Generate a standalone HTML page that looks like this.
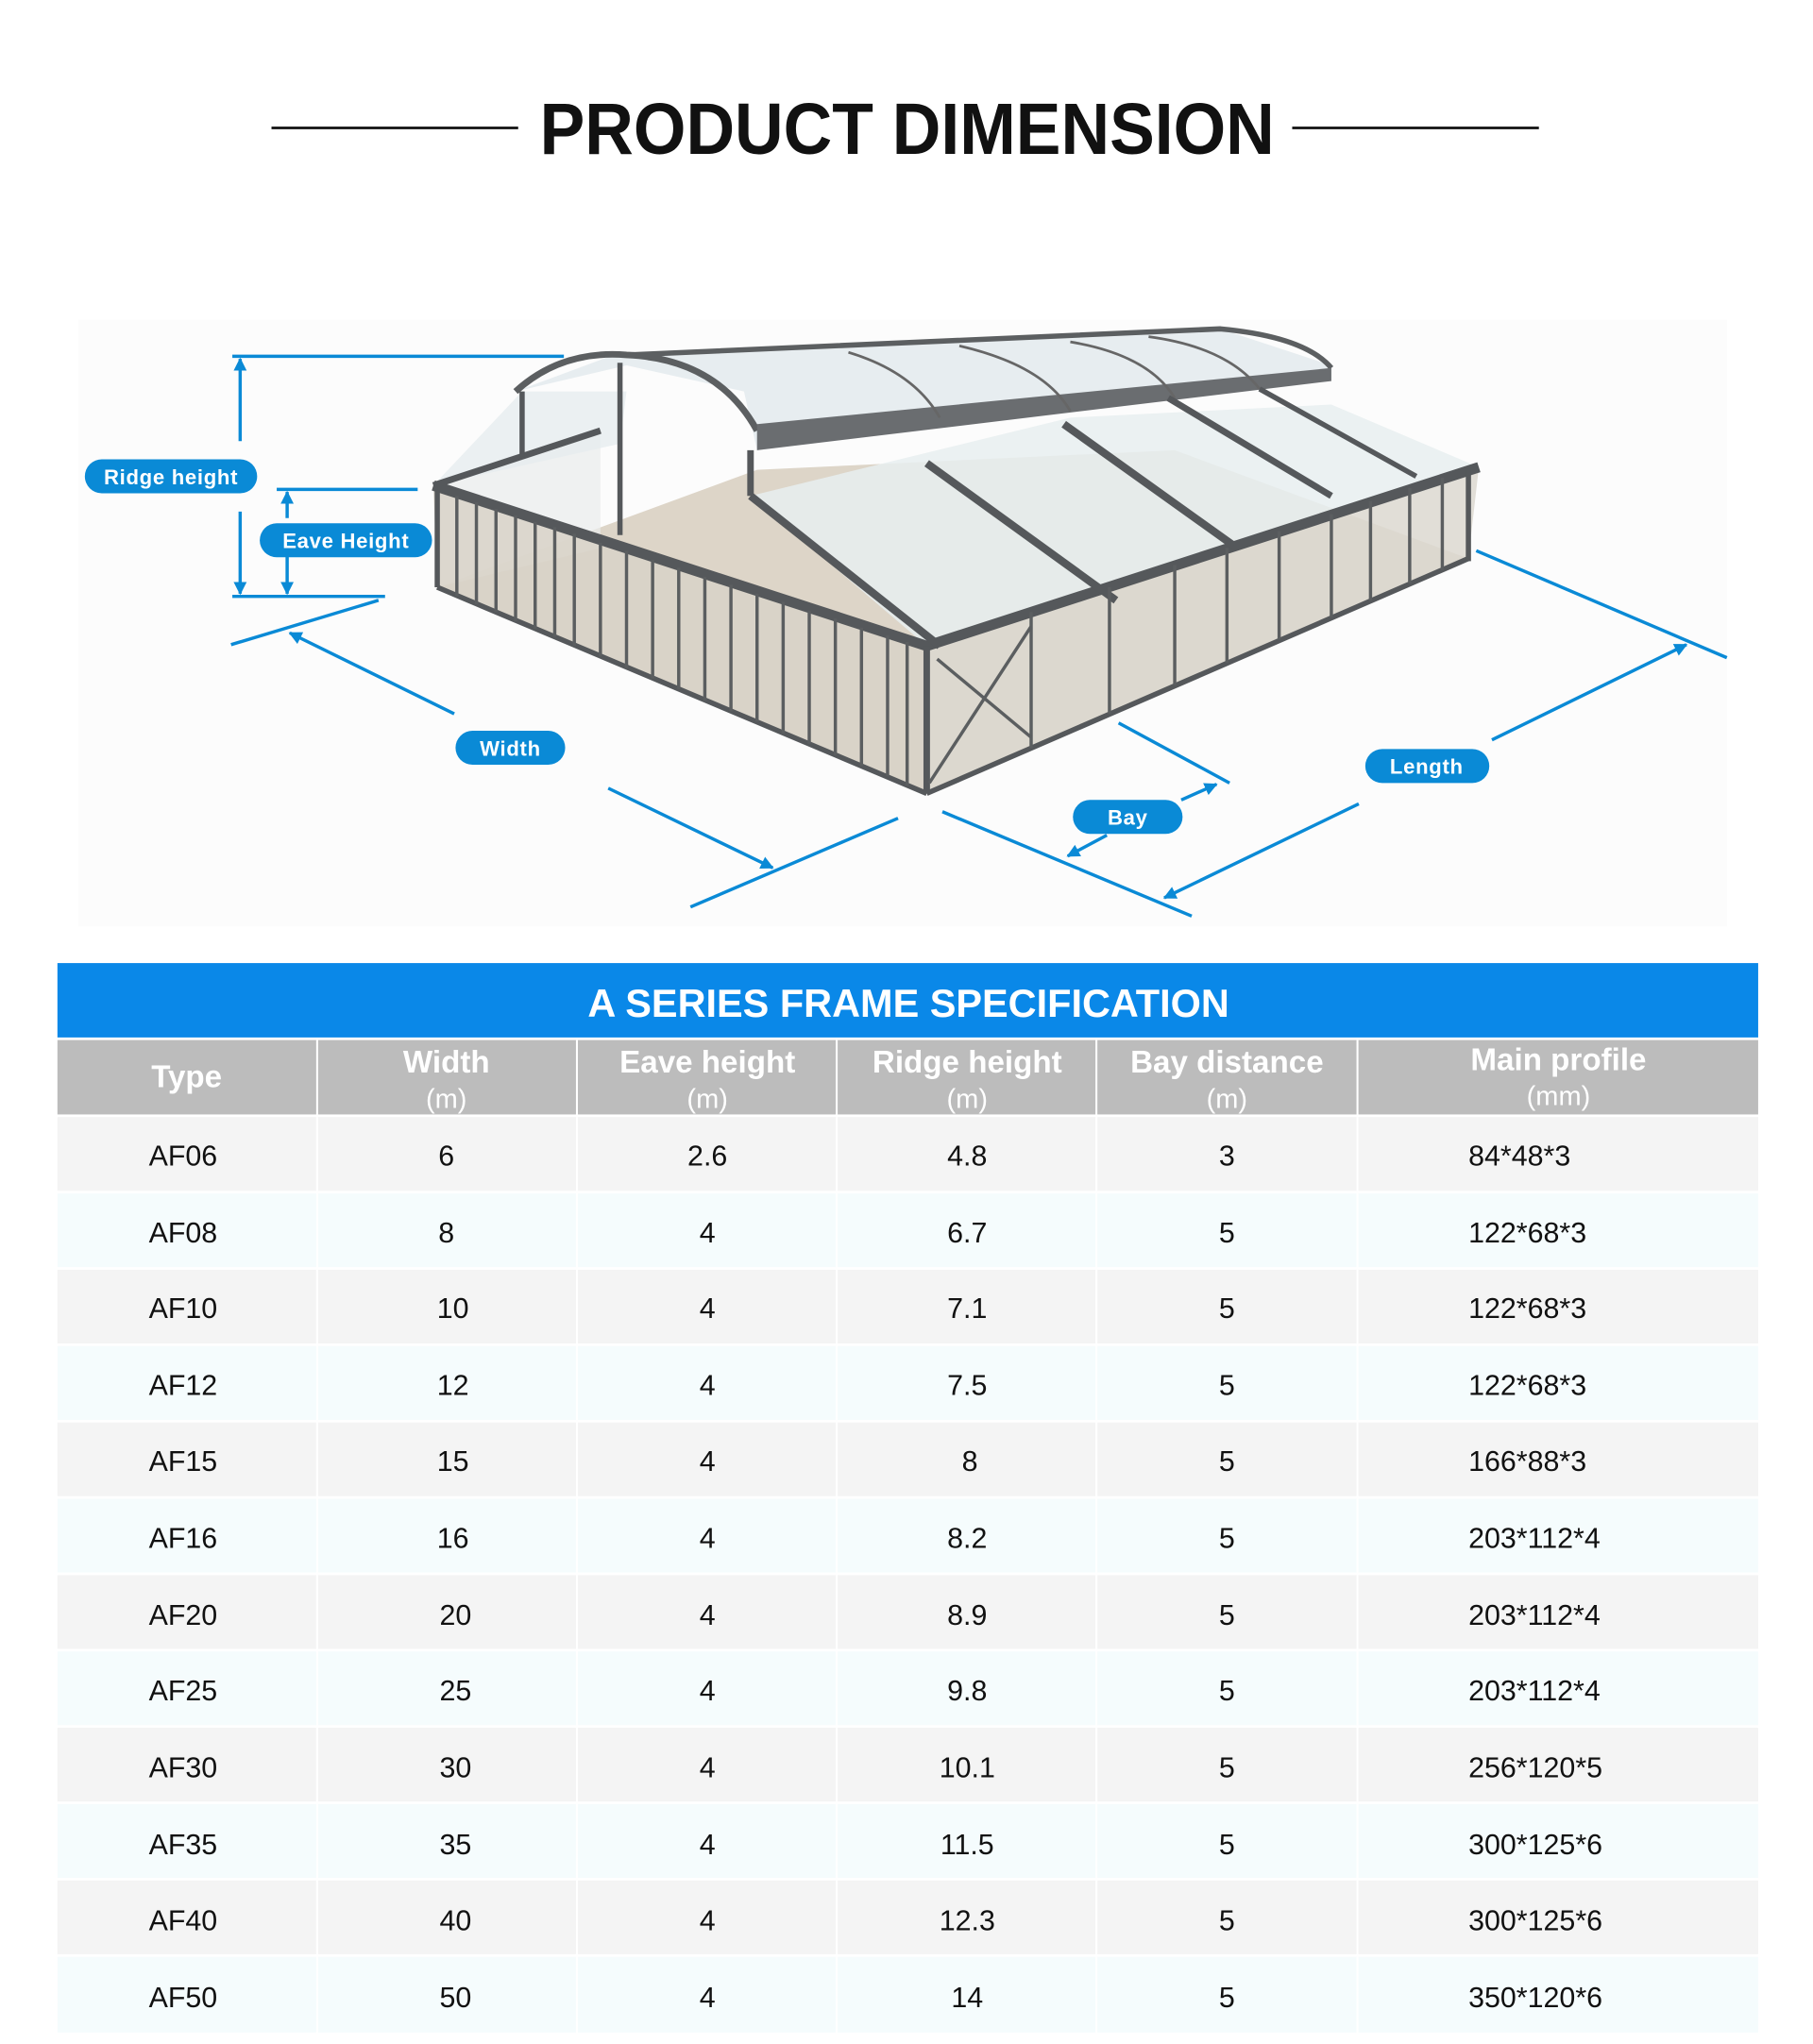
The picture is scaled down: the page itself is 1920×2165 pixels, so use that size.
<!DOCTYPE html>
<html><head><meta charset="utf-8"><style>
html,body{margin:0;padding:0;background:#fff;}
svg{display:block}
text{font-family:"Liberation Sans",sans-serif}
</style></head><body>
<svg width="1920" height="2165" viewBox="0 0 1389 1566.3" preserveAspectRatio="none" xmlns="http://www.w3.org/2000/svg">
<defs>
<marker id="ah" viewBox="0 0 10 10" refX="9" refY="5" markerWidth="4" markerHeight="4" orient="auto-start-reverse"><path d="M0,0 L10,5 L0,10 z" fill="#0a8ad6"/></marker>
</defs>
<rect width="1389" height="1567" fill="#fff"/>
<!-- Title -->
<line x1="208" y1="98" x2="397" y2="98" stroke="#111" stroke-width="2"/>
<line x1="990" y1="98" x2="1179" y2="98" stroke="#111" stroke-width="2"/>
<text x="695" y="118" text-anchor="middle" font-size="56" font-weight="bold" fill="#111" textLength="563" lengthAdjust="spacingAndGlyphs">PRODUCT DIMENSION</text>
<rect x="60" y="245" width="1263" height="465" fill="#fcfcfc"/>

<!-- Tent -->
<g>
<polygon points="335,450 710,608 1125,428 900,345 580,360" fill="#ddd5c8"/>
<!-- left back wall area -->
<polygon points="332,372 460,330 460,420 335,450" fill="#e9eced" opacity="0.7"/>
<!-- front-left wall -->
<polygon points="332,372 710,495 710,608 335,450" fill="#d8d2c8" opacity="0.85"/>
<!-- front-right wall -->
<polygon points="710,495 1133,358 1125,428 710,608" fill="#dcd8d0" opacity="0.85"/>
<!-- lower roof slopes -->
<polygon points="575,380 710,495 1133,358 1020,310 820,320" fill="#e8eef0" opacity="0.85"/>
<polygon points="332,372 475,340 480,300 400,300" fill="#e6ecef" opacity="0.8"/>
<!-- raised section -->
<polygon points="395,300 480,280 570,300 580,345 1020,290 1020,280 935,252 470,272" fill="#e4ebee" opacity="0.9"/>
<path d="M395,300 Q430,268 480,272 Q550,275 580,330" fill="none" stroke="#5c5f61" stroke-width="5"/>
<path d="M480,272 L935,252 Q1000,258 1020,282" fill="none" stroke="#5c5f61" stroke-width="4"/>
<polygon points="580,325 1020,282 1020,292 580,345" fill="#6a6d70"/>
<g stroke="#666" stroke-width="2" fill="none">
<path d="M650,270 Q700,285 720,320"/><path d="M735,265 Q800,280 820,315"/><path d="M820,262 Q880,272 900,305"/><path d="M880,258 Q940,266 965,298"/>
</g>
<!-- frame strokes -->
<g stroke="#55585b" fill="none">
<polyline points="332,372 710,495 1133,358" stroke-width="8"/>
<line x1="575" y1="380" x2="720" y2="495" stroke-width="6"/>
<line x1="710" y1="355" x2="855" y2="460" stroke-width="6"/>
<line x1="815" y1="325" x2="945" y2="418" stroke-width="6"/>
<line x1="895" y1="305" x2="1020" y2="380" stroke-width="5"/>
<line x1="965" y1="298" x2="1085" y2="365" stroke-width="4"/>
<line x1="332" y1="372" x2="460" y2="330" stroke-width="5"/>
<line x1="400" y1="300" x2="400" y2="350" stroke-width="4"/>
<line x1="475" y1="278" x2="475" y2="410" stroke-width="4"/>
<line x1="575" y1="345" x2="575" y2="380" stroke-width="5"/>
<line x1="710" y1="495" x2="710" y2="608" stroke-width="5"/>
<line x1="335" y1="450" x2="710" y2="608" stroke-width="4"/>
<line x1="710" y1="608" x2="1125" y2="428" stroke-width="4"/>
<line x1="1125" y1="360" x2="1125" y2="430" stroke-width="4"/>
<line x1="335" y1="375" x2="335" y2="450" stroke-width="4"/>
</g>
<g stroke="#5b5e60" stroke-width="2.5">
<line x1="350" y1="380" x2="350" y2="457"/><line x1="365" y1="385" x2="365" y2="463"/><line x1="380" y1="390" x2="380" y2="469"/><line x1="395" y1="395" x2="395" y2="476"/><line x1="410" y1="400" x2="410" y2="482"/><line x1="425" y1="404" x2="425" y2="488"/><line x1="440" y1="409" x2="440" y2="495"/><line x1="460" y1="416" x2="460" y2="503"/><line x1="480" y1="422" x2="480" y2="512"/><line x1="500" y1="429" x2="500" y2="520"/><line x1="520" y1="435" x2="520" y2="528"/><line x1="540" y1="442" x2="540" y2="537"/><line x1="560" y1="448" x2="560" y2="545"/><line x1="580" y1="455" x2="580" y2="553"/><line x1="600" y1="461" x2="600" y2="562"/><line x1="620" y1="468" x2="620" y2="570"/><line x1="640" y1="474" x2="640" y2="579"/><line x1="660" y1="481" x2="660" y2="587"/><line x1="680" y1="487" x2="680" y2="595"/><line x1="695" y1="492" x2="695" y2="602"/>
<line x1="790" y1="469" x2="790" y2="573"/><line x1="850" y1="450" x2="850" y2="547"/><line x1="900" y1="433" x2="900" y2="525"/><line x1="940" y1="420" x2="940" y2="508"/><line x1="980" y1="407" x2="980" y2="490"/><line x1="1020" y1="394" x2="1020" y2="473"/><line x1="1050" y1="384" x2="1050" y2="460"/><line x1="1080" y1="374" x2="1080" y2="447"/><line x1="1105" y1="366" x2="1105" y2="437"/>
<line x1="712" y1="600" x2="790" y2="480"/><line x1="718" y1="505" x2="790" y2="565"/>
</g>
</g>

<!-- Dimension lines -->
<g stroke="#0a8ad6" stroke-width="2.5" fill="none">
<line x1="178" y1="273" x2="432" y2="273"/>
<line x1="184" y1="338" x2="184" y2="275" marker-end="url(#ah)"/>
<line x1="184" y1="392" x2="184" y2="455" marker-end="url(#ah)"/>
<line x1="178" y1="457" x2="295" y2="457"/>
<line x1="212" y1="375" x2="320" y2="375"/>
<line x1="220" y1="397" x2="220" y2="377" marker-end="url(#ah)"/>
<line x1="220" y1="421" x2="220" y2="455" marker-end="url(#ah)"/>
<line x1="177" y1="494" x2="290" y2="460"/>
<line x1="348" y1="547" x2="222" y2="485" marker-end="url(#ah)"/>
<line x1="466" y1="604" x2="592" y2="665" marker-end="url(#ah)"/>
<line x1="529" y1="695" x2="688" y2="627"/>
<line x1="857" y1="554" x2="942" y2="600"/>
<line x1="905" y1="613" x2="932" y2="601" marker-end="url(#ah)"/>
<line x1="848" y1="640" x2="818" y2="656" marker-end="url(#ah)"/>
<line x1="722" y1="622" x2="913" y2="702"/>
<line x1="1131" y1="422" x2="1323" y2="504"/>
<line x1="1143" y1="567" x2="1292" y2="494" marker-end="url(#ah)"/>
<line x1="1041" y1="616" x2="892" y2="688" marker-end="url(#ah)"/>
</g>
<g fill="#0a8ad6">
<rect x="65" y="352" width="132" height="26" rx="13"/>
<rect x="199" y="401" width="132" height="26" rx="13"/>
<rect x="349" y="560" width="84" height="26" rx="13"/>
<rect x="822" y="613" width="84" height="26" rx="13"/>
<rect x="1046" y="574" width="95" height="26" rx="13"/>
</g>
<g fill="#fff" font-weight="bold" font-size="16" text-anchor="middle" letter-spacing="0.5">
<text x="131" y="371">Ridge height</text>
<text x="265" y="420">Eave Height</text>
<text x="391" y="579">Width</text>
<text x="864" y="632">Bay</text>
<text x="1093" y="593">Length</text>
</g>

<!-- Table -->
<rect x="44" y="738" width="1303" height="57" fill="#0a88e8"/>
<text x="696" y="779" text-anchor="middle" font-size="30" font-weight="bold" fill="#fff">A SERIES FRAME SPECIFICATION</text>
<rect x="44" y="797" width="1303" height="57" fill="#bcbcbc"/>
<g stroke="#fff" stroke-width="1.5">
<line x1="243" y1="797" x2="243" y2="1560"/><line x1="442" y1="797" x2="442" y2="1560"/><line x1="641" y1="797" x2="641" y2="1560"/><line x1="840" y1="797" x2="840" y2="1560"/><line x1="1040" y1="797" x2="1040" y2="1560"/>
</g>
<g fill="#fff" font-weight="bold" font-size="24" text-anchor="middle">
<text x="143" y="833">Type</text>
<text x="342" y="822">Width</text>
<text x="542" y="822">Eave height</text>
<text x="741" y="822">Ridge height</text>
<text x="940" y="822">Bay distance</text>
<text x="1194" y="820">Main profile</text>
</g>
<g fill="#fff" font-size="21" text-anchor="middle">
<text x="342" y="849">(m)</text><text x="542" y="849">(m)</text><text x="741" y="849">(m)</text><text x="940" y="849">(m)</text><text x="1194" y="847">(mm)</text>
</g>
<g id="rows" font-size="22" fill="#111">
<rect x="44" y="856" width="1303" height="56.5" fill="#f4f4f4"/>
<rect x="44" y="914.5" width="1303" height="56.5" fill="#f5fcfd"/>
<rect x="44" y="973" width="1303" height="56.5" fill="#f4f4f4"/>
<rect x="44" y="1031.5" width="1303" height="56.5" fill="#f5fcfd"/>
<rect x="44" y="1090" width="1303" height="56.5" fill="#f4f4f4"/>
<rect x="44" y="1148.5" width="1303" height="56.5" fill="#f5fcfd"/>
<rect x="44" y="1207" width="1303" height="56.5" fill="#f4f4f4"/>
<rect x="44" y="1265.5" width="1303" height="56.5" fill="#f5fcfd"/>
<rect x="44" y="1324" width="1303" height="56.5" fill="#f4f4f4"/>
<rect x="44" y="1382.5" width="1303" height="56.5" fill="#f5fcfd"/>
<rect x="44" y="1441" width="1303" height="56.5" fill="#f4f4f4"/>
<rect x="44" y="1499.5" width="1303" height="58" fill="#f5fcfd"/>
</g>
<g stroke="#fff" stroke-width="1.5">
<line x1="243" y1="856" x2="243" y2="1558"/><line x1="442" y1="856" x2="442" y2="1558"/><line x1="641" y1="856" x2="641" y2="1558"/><line x1="840" y1="856" x2="840" y2="1558"/><line x1="1040" y1="856" x2="1040" y2="1558"/>
</g>
<g font-size="22" fill="#111">
<g transform="translate(0,893)"><text x="114">AF06</text><text x="342" text-anchor="middle">6</text><text x="542" text-anchor="middle">2.6</text><text x="741" text-anchor="middle">4.8</text><text x="940" text-anchor="middle">3</text><text x="1125">84*48*3</text></g>
<g transform="translate(0,952)"><text x="114">AF08</text><text x="342" text-anchor="middle">8</text><text x="542" text-anchor="middle">4</text><text x="741" text-anchor="middle">6.7</text><text x="940" text-anchor="middle">5</text><text x="1125">122*68*3</text></g>
<g transform="translate(0,1010)"><text x="114">AF10</text><text x="347" text-anchor="middle">10</text><text x="542" text-anchor="middle">4</text><text x="741" text-anchor="middle">7.1</text><text x="940" text-anchor="middle">5</text><text x="1125">122*68*3</text></g>
<g transform="translate(0,1069)"><text x="114">AF12</text><text x="347" text-anchor="middle">12</text><text x="542" text-anchor="middle">4</text><text x="741" text-anchor="middle">7.5</text><text x="940" text-anchor="middle">5</text><text x="1125">122*68*3</text></g>
<g transform="translate(0,1127)"><text x="114">AF15</text><text x="347" text-anchor="middle">15</text><text x="542" text-anchor="middle">4</text><text x="743" text-anchor="middle">8</text><text x="940" text-anchor="middle">5</text><text x="1125">166*88*3</text></g>
<g transform="translate(0,1186)"><text x="114">AF16</text><text x="347" text-anchor="middle">16</text><text x="542" text-anchor="middle">4</text><text x="741" text-anchor="middle">8.2</text><text x="940" text-anchor="middle">5</text><text x="1125">203*112*4</text></g>
<g transform="translate(0,1245)"><text x="114">AF20</text><text x="349" text-anchor="middle">20</text><text x="542" text-anchor="middle">4</text><text x="741" text-anchor="middle">8.9</text><text x="940" text-anchor="middle">5</text><text x="1125">203*112*4</text></g>
<g transform="translate(0,1303)"><text x="114">AF25</text><text x="349" text-anchor="middle">25</text><text x="542" text-anchor="middle">4</text><text x="741" text-anchor="middle">9.8</text><text x="940" text-anchor="middle">5</text><text x="1125">203*112*4</text></g>
<g transform="translate(0,1362)"><text x="114">AF30</text><text x="349" text-anchor="middle">30</text><text x="542" text-anchor="middle">4</text><text x="741" text-anchor="middle">10.1</text><text x="940" text-anchor="middle">5</text><text x="1125">256*120*5</text></g>
<g transform="translate(0,1421)"><text x="114">AF35</text><text x="349" text-anchor="middle">35</text><text x="542" text-anchor="middle">4</text><text x="741" text-anchor="middle">11.5</text><text x="940" text-anchor="middle">5</text><text x="1125">300*125*6</text></g>
<g transform="translate(0,1479)"><text x="114">AF40</text><text x="349" text-anchor="middle">40</text><text x="542" text-anchor="middle">4</text><text x="741" text-anchor="middle">12.3</text><text x="940" text-anchor="middle">5</text><text x="1125">300*125*6</text></g>
<g transform="translate(0,1538)"><text x="114">AF50</text><text x="349" text-anchor="middle">50</text><text x="542" text-anchor="middle">4</text><text x="741" text-anchor="middle">14</text><text x="940" text-anchor="middle">5</text><text x="1125">350*120*6</text></g>
</g>
</svg>
</body></html>
